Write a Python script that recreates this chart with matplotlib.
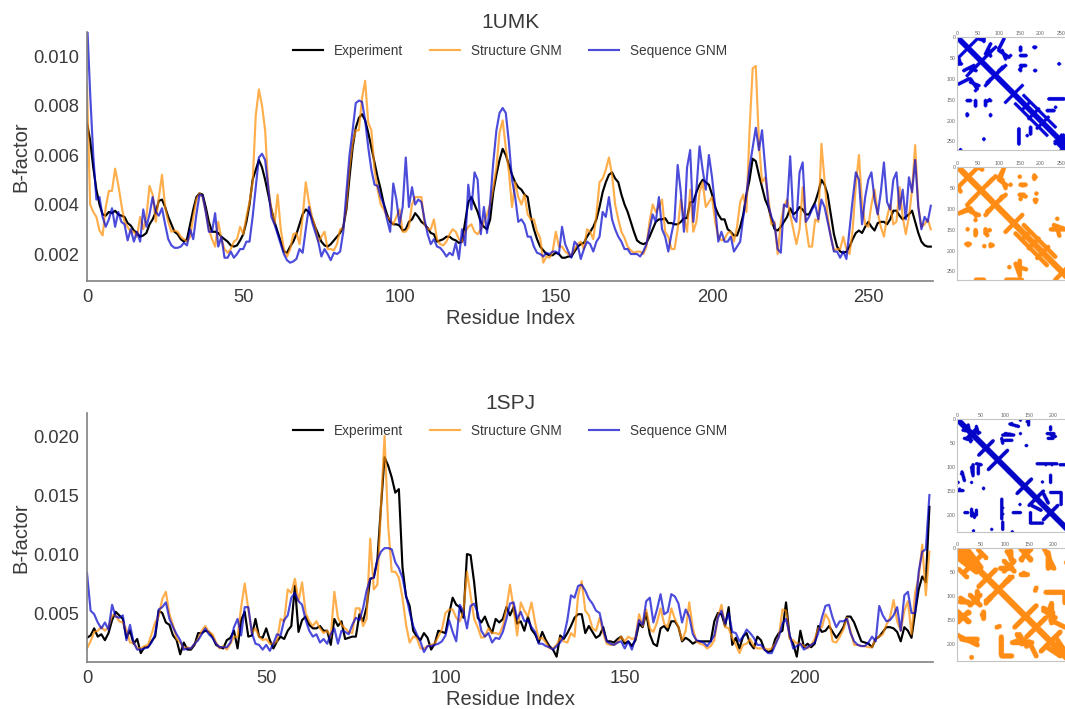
import numpy as np
import matplotlib
matplotlib.use("Agg")
import matplotlib.pyplot as plt
from matplotlib.colors import LinearSegmentedColormap

plt.rcParams['font.family'] = ['Liberation Sans', 'DejaVu Sans']

# All B-factor values are in units of 1e-3
umk_experiment = [
 7.3,6.6,5.5,4.6,4.0,3.6,3.55,3.7,3.65,3.75,
 3.6,3.55,3.5,3.25,3.15,2.95,2.85,2.7,2.75,2.85,
 3.2,3.4,3.7,4.15,4.2,3.9,3.5,3.2,2.9,2.8,
 2.6,2.5,2.6,3.2,3.8,4.3,4.45,4.4,3.9,3.3,
 2.9,2.9,2.85,2.7,2.6,2.5,2.35,2.3,2.35,2.55,
 2.8,3.3,4.0,5.0,5.4,5.8,5.5,5.0,4.4,3.8,
 3.3,2.9,2.5,2.1,2.05,2.3,2.5,2.8,3.2,3.6,
 3.8,3.7,3.45,3.1,2.8,2.5,2.35,2.3,2.4,2.55,
 2.7,2.85,3.1,3.8,5.1,6.3,7.1,7.5,7.65,7.4,
 6.9,6.3,5.7,5.1,4.6,4.0,3.6,3.3,3.2,3.2,
 3.15,2.95,3.0,3.3,3.4,3.65,3.5,3.3,3.2,3.05,
 2.85,2.8,2.5,2.55,2.6,2.7,2.7,2.6,2.55,2.45,
 2.5,3.3,4.1,4.3,4.0,3.7,3.3,3.1,3.0,3.4,
 4.5,5.2,5.8,6.25,6.0,5.6,5.2,4.9,4.7,4.6,
 4.4,4.3,3.5,3.0,2.6,2.3,2.15,2.0,1.95,1.95,
 2.05,2.0,1.85,1.85,1.9,1.9,2.1,2.3,2.4,2.45,
 2.7,2.9,3.1,3.4,3.9,4.5,4.9,5.2,5.3,5.05,
 4.9,4.4,4.0,3.7,3.3,2.9,2.55,2.45,2.4,2.45,
 2.7,3.0,3.3,3.4,3.4,3.45,3.25,3.25,3.2,3.2,
 3.3,3.45,3.45,4.1,4.1,4.5,4.8,5.0,4.9,4.8,
 4.4,3.9,3.6,3.4,3.4,3.0,2.9,2.75,2.75,3.1,
 3.6,4.4,5.0,5.85,5.75,5.2,4.7,4.2,3.9,3.4,
 3.0,2.95,3.1,3.3,3.5,3.85,3.6,3.7,3.9,3.8,
 3.6,3.6,3.85,4.1,4.5,5.0,4.8,4.4,3.6,2.8,
 2.3,2.1,2.05,2.1,2.3,2.6,2.85,2.95,2.85,3.1,
 3.3,3.1,2.95,3.25,3.3,3.3,3.2,3.4,3.75,3.75,
 3.55,3.4,3.5,3.6,3.75,3.3,2.85,2.5,2.35,2.3,
 2.3]
umk_structure = [
 8.8,4.0,3.7,3.5,2.95,2.75,3.9,4.55,4.55,5.45,
 4.8,4.0,3.3,3.1,2.9,2.9,2.7,3.5,3.0,3.5,
 4.75,4.4,3.3,4.3,5.2,3.9,3.3,2.9,2.95,2.9,
 2.7,2.6,2.5,2.7,3.5,4.2,4.45,4.3,3.7,3.0,
 2.6,2.3,3.3,2.6,2.2,2.05,2.2,2.5,2.6,3.1,
 2.8,3.5,4.1,4.9,7.6,8.65,8.0,7.0,4.7,3.8,
 3.2,4.4,3.0,2.2,1.9,2.2,2.8,2.85,2.4,3.5,
 4.9,4.1,3.5,3.1,2.5,2.7,2.9,2.2,2.2,2.15,
 2.4,3.0,3.0,4.0,5.5,6.5,7.0,7.0,8.3,9.0,
 7.3,7.0,5.4,4.6,4.0,3.8,3.5,3.4,3.2,3.5,
 3.8,2.9,2.9,3.1,4.0,4.3,4.3,4.3,3.2,3.0,
 3.0,3.4,2.6,2.4,2.35,2.5,2.8,3.0,2.9,2.6,
 2.5,2.9,3.1,3.2,2.9,2.8,3.0,3.3,3.6,4.0,
 4.7,5.5,6.9,7.4,6.3,5.3,3.9,4.9,4.3,4.0,
 4.4,3.6,3.4,3.4,2.9,2.65,1.65,1.9,1.85,2.1,
 2.9,2.3,2.3,2.1,2.0,1.95,2.2,2.4,2.5,2.2,
 3.0,2.9,2.6,3.6,4.9,5.05,5.4,5.9,5.2,4.0,
 3.4,2.9,2.65,2.3,2.15,2.05,2.1,2.1,2.0,2.3,
 3.3,4.0,3.7,3.9,4.2,2.9,2.7,2.2,2.2,3.0,
 4.2,3.5,2.9,4.6,2.9,3.3,4.5,4.9,3.9,4.1,
 4.3,3.3,2.7,2.55,2.6,2.85,2.9,2.5,3.1,4.1,
 4.4,3.7,7.0,9.5,9.6,6.5,4.9,5.1,4.3,3.2,
 3.3,2.0,3.3,3.9,4.2,3.6,3.0,2.4,3.0,4.7,
 3.2,2.3,2.3,3.4,3.3,6.45,5.0,3.5,2.7,2.15,
 2.2,2.2,2.7,2.2,2.0,3.0,4.8,6.0,4.0,3.2,
 3.1,4.0,4.6,3.7,3.1,2.7,3.5,4.0,3.2,3.3,
 4.7,3.5,2.8,3.5,4.6,6.4,3.9,3.1,3.2,3.4,
 3.0]
umk_sequence = [
 11.5,8.5,6.0,4.2,4.3,3.5,3.1,3.4,3.85,3.1,
 3.7,3.3,3.2,2.55,3.0,2.5,2.9,2.5,3.8,3.1,
 3.6,4.3,3.7,3.55,3.85,3.2,2.6,2.35,2.25,2.25,
 2.3,2.45,2.35,3.0,2.6,3.6,4.4,4.35,3.7,2.9,
 2.9,3.65,2.3,2.7,1.85,1.85,2.1,1.85,2.0,2.2,
 2.2,2.5,2.5,3.5,4.7,5.9,6.05,5.8,4.7,3.5,
 3.2,2.8,2.4,2.0,1.75,1.65,1.7,1.8,2.2,2.05,
 3.0,3.9,3.3,2.9,2.5,1.9,2.2,2.0,1.75,2.05,
 2.0,2.1,2.9,4.5,6.0,7.0,8.1,8.2,8.15,7.4,
 6.3,5.4,4.8,4.75,4.3,4.0,3.4,2.9,4.85,4.2,
 3.2,3.9,5.9,3.9,4.7,4.0,4.2,4.1,3.4,2.8,
 2.4,2.6,2.3,2.25,2.1,1.9,2.05,1.95,2.45,1.8,
 3.0,2.35,4.8,3.8,5.3,5.0,2.8,3.9,2.85,4.1,
 5.7,7.0,7.7,7.9,7.7,6.5,5.0,4.3,3.3,3.4,
 3.2,2.7,2.7,2.3,2.05,2.0,1.9,2.05,2.0,2.1,
 2.1,2.0,3.1,2.4,2.1,1.85,2.5,2.35,1.8,2.2,
 2.5,2.4,2.1,2.5,2.7,3.7,3.5,4.3,3.4,3.0,
 2.7,2.5,2.2,2.2,2.0,2.0,2.0,1.9,2.1,2.4,
 3.0,3.6,3.3,4.3,3.0,2.7,2.1,2.8,3.4,5.6,
 4.5,2.9,5.5,6.2,3.3,4.6,6.35,5.4,4.6,6.0,
 5.1,3.9,2.5,2.9,2.5,2.5,2.7,2.1,2.3,2.5,
 3.5,4.4,5.5,6.3,7.1,6.2,7.0,5.5,4.0,3.5,
 3.2,2.2,2.05,4.0,3.9,5.95,3.5,3.3,5.3,5.7,
 3.3,3.5,3.8,4.0,3.4,4.2,3.9,3.3,2.7,2.1,
 2.1,1.85,2.1,1.8,3.0,4.2,5.3,5.0,3.2,4.3,
 5.0,5.3,4.2,3.6,4.5,5.7,4.1,3.8,5.0,5.3,
 3.8,4.6,3.4,5.1,4.5,5.8,3.9,3.0,3.5,3.3,
 3.95]

spj_experiment = [
 2.9,3.1,3.7,3.0,3.2,2.7,3.3,4.4,5.1,4.8,
 4.5,2.9,3.5,2.4,2.8,1.6,2.1,2.1,2.6,3.0,
 5.2,5.0,4.2,4.0,3.1,2.7,1.5,2.5,1.9,1.9,
 2.3,3.3,3.3,3.5,3.4,3.0,2.3,2.1,2.0,2.7,
 2.9,3.5,2.0,4.4,5.1,3.0,3.1,4.5,3.0,2.9,
 3.7,2.7,2.0,2.6,3.0,2.8,3.5,3.9,7.3,3.4,
 4.4,4.7,4.0,3.7,3.7,3.9,3.5,3.5,2.3,4.5,
 3.9,4.3,2.8,2.9,3.0,3.0,4.9,4.3,5.5,7.9,
 8.0,9.5,14.0,18.2,17.5,16.5,15.2,15.5,8.9,6.4,
 5.6,3.5,3.0,2.7,3.3,2.9,1.9,2.4,3.5,3.4,
 3.3,4.9,6.3,5.7,5.5,4.6,10.0,9.9,7.6,4.6,
 4.2,4.7,3.9,3.3,4.5,4.2,4.5,5.5,4.8,5.5,
 4.1,4.3,3.5,4.7,3.6,3.2,2.5,3.4,2.7,2.2,
 1.9,1.3,3.1,2.8,3.3,3.9,4.6,4.9,4.9,3.3,
 3.9,3.4,2.9,3.1,3.8,2.6,2.6,2.5,2.8,3.0,
 2.4,2.6,2.2,2.7,4.1,3.8,5.0,3.2,2.4,2.2,
 3.7,3.9,3.5,4.3,4.3,3.8,2.6,2.9,2.7,2.4,
 2.6,2.6,2.6,2.6,2.6,4.3,5.0,4.9,3.9,5.5,
 2.3,2.9,2.0,3.0,3.3,2.4,2.0,3.0,2.7,1.9,
 1.7,1.8,2.8,3.3,3.5,5.9,3.0,2.4,1.3,3.5,
 2.1,2.4,2.1,2.4,3.9,3.4,3.5,3.9,3.4,2.9,
 3.3,3.8,4.7,4.7,4.2,3.4,2.6,2.5,2.4,2.1,
 2.8,3.0,3.4,3.8,3.8,3.7,3.4,2.6,3.8,3.5,
 2.9,5.0,7.0,8.1,7.6,14.0]
spj_structure = [
 2.0,2.6,3.4,3.5,3.8,3.5,3.8,4.8,4.8,4.3,
 4.2,3.6,2.5,2.5,2.0,2.0,2.2,2.3,3.2,4.2,
 4.7,6.2,6.8,4.9,4.0,2.8,2.5,2.0,2.1,2.0,
 2.4,2.8,3.5,3.9,3.4,3.2,2.5,2.0,2.2,1.9,
 2.4,3.0,3.0,5.5,7.5,5.3,3.3,3.7,3.0,2.7,
 2.8,2.4,2.4,2.6,4.5,4.3,7.0,6.7,7.9,6.0,
 7.6,5.0,4.3,3.9,4.3,3.7,3.3,3.5,3.0,6.8,
 4.6,4.0,3.7,3.4,3.3,5.4,5.4,3.9,4.5,11.3,
 7.0,7.4,14.0,20.0,12.5,8.5,8.5,8.0,6.3,4.0,
 2.5,3.0,2.9,2.0,2.0,2.2,2.3,2.4,3.0,3.6,
 5.0,5.3,5.3,4.6,4.3,5.2,8.5,6.5,4.5,3.8,
 2.9,3.0,3.7,3.3,3.3,3.2,3.9,5.4,7.4,5.4,
 3.1,5.9,5.2,4.7,5.9,4.2,2.8,2.9,2.5,2.0,
 2.0,2.3,2.9,2.6,2.5,3.3,3.0,6.5,7.7,5.2,
 4.8,3.7,3.5,4.6,3.3,2.4,2.3,2.3,2.5,3.0,
 2.6,3.0,2.8,2.9,4.9,3.9,5.3,3.7,3.4,4.2,
 5.4,4.1,3.8,5.4,4.5,3.8,2.7,3.5,5.9,3.7,
 2.6,2.4,2.3,2.0,2.2,2.7,4.7,5.7,3.8,3.7,
 2.9,2.3,1.6,2.3,2.4,2.8,2.2,2.0,2.0,2.0,
 1.9,2.0,2.4,3.0,5.3,5.2,2.8,2.7,2.4,2.4,
 2.2,2.0,2.3,2.8,3.7,3.8,4.9,4.4,2.6,2.5,
 3.0,3.6,4.6,3.5,2.3,2.3,2.2,2.2,2.1,2.1,
 2.8,3.0,3.2,4.0,4.6,6.1,4.3,3.5,5.2,6.0,
 3.2,6.7,8.0,10.8,6.5,10.2]
spj_sequence = [
 8.4,5.2,4.9,4.2,3.7,4.2,3.6,5.7,4.7,4.6,
 4.8,2.7,4.0,2.5,1.9,1.9,2.0,2.1,2.5,3.2,
 5.3,5.5,5.9,4.5,3.8,3.2,2.7,1.9,2.0,2.0,
 2.4,2.7,3.2,3.7,3.2,2.9,2.4,2.1,2.1,2.1,
 2.5,3.8,4.5,3.1,5.5,5.5,3.3,2.4,2.3,1.9,
 2.3,1.8,2.4,3.2,3.1,4.4,4.8,6.3,6.7,6.0,
 5.7,4.4,3.5,3.0,3.2,2.5,2.8,2.4,3.2,3.7,
 2.4,3.5,3.4,3.2,4.0,4.6,4.4,5.4,6.9,7.9,
 8.0,9.5,10.2,10.5,10.5,10.4,9.3,8.8,8.0,6.5,
 5.1,3.9,3.2,2.6,1.7,2.2,2.2,2.3,2.4,2.6,
 3.1,4.4,3.4,2.6,5.7,5.1,3.7,5.6,5.8,5.0,
 3.5,3.0,3.3,2.5,2.9,2.8,3.4,4.5,5.8,5.9,
 4.5,5.1,4.3,4.4,3.8,3.4,2.4,2.4,2.2,2.1,
 1.9,2.2,2.5,3.0,4.4,6.5,6.3,7.3,7.4,6.9,
 6.2,5.8,5.2,5.0,3.6,2.6,2.4,2.3,2.5,2.6,
 2.0,2.6,1.9,2.9,4.4,4.0,6.0,6.3,4.2,5.3,
 6.6,4.9,5.1,6.6,6.4,5.8,4.2,5.3,4.7,3.2,
 2.7,2.6,2.5,2.2,2.6,3.1,4.6,5.2,4.1,5.0,
 3.4,3.3,2.6,3.0,3.6,3.3,2.9,2.3,2.3,1.9,
 1.6,1.6,2.3,3.0,4.1,4.5,3.2,2.0,2.2,2.4,
 1.9,2.1,2.3,2.5,3.3,4.6,5.6,5.7,4.6,3.8,
 4.3,4.3,4.5,3.3,2.6,2.3,2.2,2.2,2.5,3.0,
 2.6,5.6,4.8,4.3,4.4,4.8,5.5,3.5,6.5,6.8,
 5.0,5.0,8.5,10.2,10.4,15.0]

# Contact maps: segments of contacts (row0, col0, row1, col1) in residue indices,
# upper triangle only; the maps are symmetric.
umk_blue_contacts = [
 (0,0,270,270),(48,4,4,48),(92,24,30,85),(116,68,72,108),(156,116,116,156),
 (140,160,215,235),(172,158,158,172),(195,172,172,195),(218,192,192,218),
 (255,235,235,255),(270,250,250,270),(235,250,255,270),
 (4,52,8,64),(28,100,4,112),(32,100,48,124),(44,152,44,164),(68,152,68,164),
 (80,152,80,152),(80,188,80,188),(24,184,24,188),(64,244,64,244),(100,28,112,4),
 (108,32,116,52),(128,44,128,44),(64,0,64,10),(16,80,40,68),(75,30,80,45),
 (148,220,148,256),(168,236,168,236),(216,176,232,176),(186,25,186,25),(156,44,165,44),
 (156,68,150,78),(186,80,186,80),(245,64,245,64),(270,8,270,8),(152,24,152,32),
]
umk_orange_contacts = [
 (0,0,270,270),(50,2,2,50),(92,24,30,85),(116,68,72,108),(156,116,116,156),
 (140,160,215,235),(172,158,158,172),(195,172,172,195),(218,192,192,218),(270,235,235,270),
 (4,52,8,60),(28,104,5,112),(32,100,45,118),(26,184,26,188),(44,152,44,164),
 (68,152,72,164),(80,186,85,188),(100,28,112,4),(108,32,116,52),(128,44,128,44),
 (150,25,150,25),(155,45,160,45),(150,68,160,68),(152,78,152,78),(185,22,185,30),
 (190,65,190,65),(190,80,190,80),(240,125,240,125),(232,140,255,148),(270,45,270,64),
 (270,118,270,155),(150,225,150,260),(148,240,165,245),(200,180,215,195),
]
spj_blue_contacts = [
 (0,0,236,236),(40,20,20,40),(75,45,45,75),(105,65,65,105),(155,125,125,155),
 (180,150,150,180),(210,180,180,210),(12,23,47,28),(15,40,30,44),(10,110,15,128),
 (2,132,2,132),(5,146,5,146),(30,132,30,132),(30,188,30,202),(40,190,40,200),
 (55,144,55,144),(33,95,33,118),(40,93,50,95),(93,167,93,167),(95,185,95,185),
 (95,198,95,198),(95,215,95,228),(117,195,131,195),(131,178,131,178),(114,9,114,9),
 (100,30,114,32),(100,44,114,44),(149,2,149,12),(145,55,145,55),(195,118,195,132),
 (195,153,215,153),(217,153,217,178),(170,93,208,93),(195,16,195,22),(195,32,205,36),
 (233,34,233,34),(230,72,230,72),(230,95,230,95),(235,115,235,115),(155,180,175,190),
]
spj_orange_contacts = [
 (0,0,236,236),(50,15,15,50),(80,45,45,80),(115,60,60,110),(165,120,120,165),
 (185,145,145,185),(215,175,175,215),(0,20,40,50),(15,5,40,40),(3,44,20,60),
 (7,104,28,118),(0,132,25,153),(0,145,25,135),(42,90,42,115),(52,139,52,139),
 (7,185,42,202),(20,190,42,190),(88,163,88,163),(92,185,92,223),(120,195,145,195),
 (130,180,145,205),(112,6,112,23),(98,27,119,48),(119,27,98,48),(133,2,154,23),
 (154,2,133,23),(133,55,147,55),(165,83,165,83),(182,2,182,2),(190,9,197,40),
 (203,93,203,93),(197,115,197,156),(180,125,200,135),(225,93,225,114),(228,30,228,30),
 (195,150,225,165),(205,185,225,215),
]

W, H = 1065, 709


def box(left, top, right, bottom):
    return [left / W, 1 - bottom / H, (right - left) / W, (bottom - top) / H]


def contact_matrix(n, segments, radius, main_radius):
    yy, xx = np.mgrid[0:n, 0:n]
    m = np.zeros((n, n), bool)
    for k, (r0, c0, r1, c1) in enumerate(segments):
        rad = main_radius if k == 0 else radius
        for a0, b0, a1, b1 in ((r0, c0, r1, c1), (c0, r0, c1, r1)):
            dx, dy = b1 - b0, a1 - a0
            den = max(dx * dx + dy * dy, 1e-9)
            t = np.clip(((xx - b0) * dx + (yy - a0) * dy) / den, 0, 1)
            m |= (xx - b0 - t * dx) ** 2 + (yy - a0 - t * dy) ** 2 <= rad ** 2
    return m.astype(float)


def line_panel(fig, rect, title, exp, stru, seq, xmax, ylim, xticks, yticks, fmt, legend_y):
    ax = fig.add_axes(rect)
    ax.plot(np.arange(len(exp)), np.array(exp) * 1e-3, color='black', lw=1.55, label='Experiment')
    ax.plot(np.arange(len(stru)), np.array(stru) * 1e-3, color='darkorange', lw=1.55, alpha=0.7, label='Structure GNM')
    ax.plot(np.arange(len(seq)), np.array(seq) * 1e-3, color='mediumblue', lw=1.55, alpha=0.7, label='Sequence GNM')
    ax.set_xlim(0, xmax)
    ax.set_ylim(*ylim)
    ax.set_xticks(xticks)
    ax.set_yticks(yticks)
    ax.set_yticklabels([fmt % v for v in yticks])
    ax.tick_params(length=0, labelsize=13.2, labelcolor='#3a3a3a', pad=6)
    for s in ('top', 'right'):
        ax.spines[s].set_visible(False)
    for s in ('left', 'bottom'):
        ax.spines[s].set_color('#808080')
        ax.spines[s].set_linewidth(1.2)
    ax.set_xlabel('Residue Index', fontsize=14.5, color='#3a3a3a', labelpad=2)
    ax.set_ylabel('B-factor', fontsize=14.5, color='#3a3a3a', labelpad=2)
    ax.set_title(title, fontsize=15, color='#3a3a3a', pad=1)
    ax.legend(ncol=3, frameon=False, loc='center', bbox_to_anchor=(0.5, legend_y),
              fontsize=9.8, handlelength=2.2, handletextpad=0.8, columnspacing=2.0,
              labelcolor='#3a3a3a')
    return ax


def map_panel(fig, rect, matrix, color, ticks):
    ax = fig.add_axes(rect)
    cmap = LinearSegmentedColormap.from_list('m', ['white', color])
    ax.imshow(matrix, cmap=cmap, aspect='auto', interpolation='hanning', vmin=0, vmax=1)
    ax.set_xticks(ticks)
    ax.set_yticks(ticks)
    ax.xaxis.tick_top()
    ax.tick_params(length=0, labelsize=3.8, labelcolor='#666666', pad=1)
    for s in ax.spines.values():
        s.set_color('#c4c4c4')
        s.set_linewidth(0.8)
    return ax


fig = plt.figure(figsize=(W / 100, H / 100), dpi=100, facecolor='white')

line_panel(fig, box(87, 32, 933, 281), '1UMK', umk_experiment, umk_structure, umk_sequence,
           270.7, (0.00091, 0.01097), [0, 50, 100, 150, 200, 250],
           [0.002, 0.004, 0.006, 0.008, 0.010], '%.3f', 0.924)
line_panel(fig, box(87, 413, 933, 662), '1SPJ', spj_experiment, spj_structure, spj_sequence,
           236, (0.00085, 0.02195), [0, 50, 100, 150, 200],
           [0.005, 0.010, 0.015, 0.020], '%.3f', 0.928)

t1 = [0, 50, 100, 150, 200, 250]
t2 = [0, 50, 100, 150, 200]
map_panel(fig, box(957, 37, 1070, 150), contact_matrix(271, umk_blue_contacts, 4.2, 6.5), '#0505d8', t1)
map_panel(fig, box(957, 167, 1070, 280), contact_matrix(271, umk_orange_contacts, 5.2, 7.5), '#ff8c14', t1)
map_panel(fig, box(957, 419, 1070, 532), contact_matrix(236, spj_blue_contacts, 3.6, 6.0), '#0505c8', t2)
map_panel(fig, box(957, 548, 1070, 661), contact_matrix(236, spj_orange_contacts, 5.0, 6.5), '#ff8c14', t2)

fig.savefig('out.png', dpi=100)
